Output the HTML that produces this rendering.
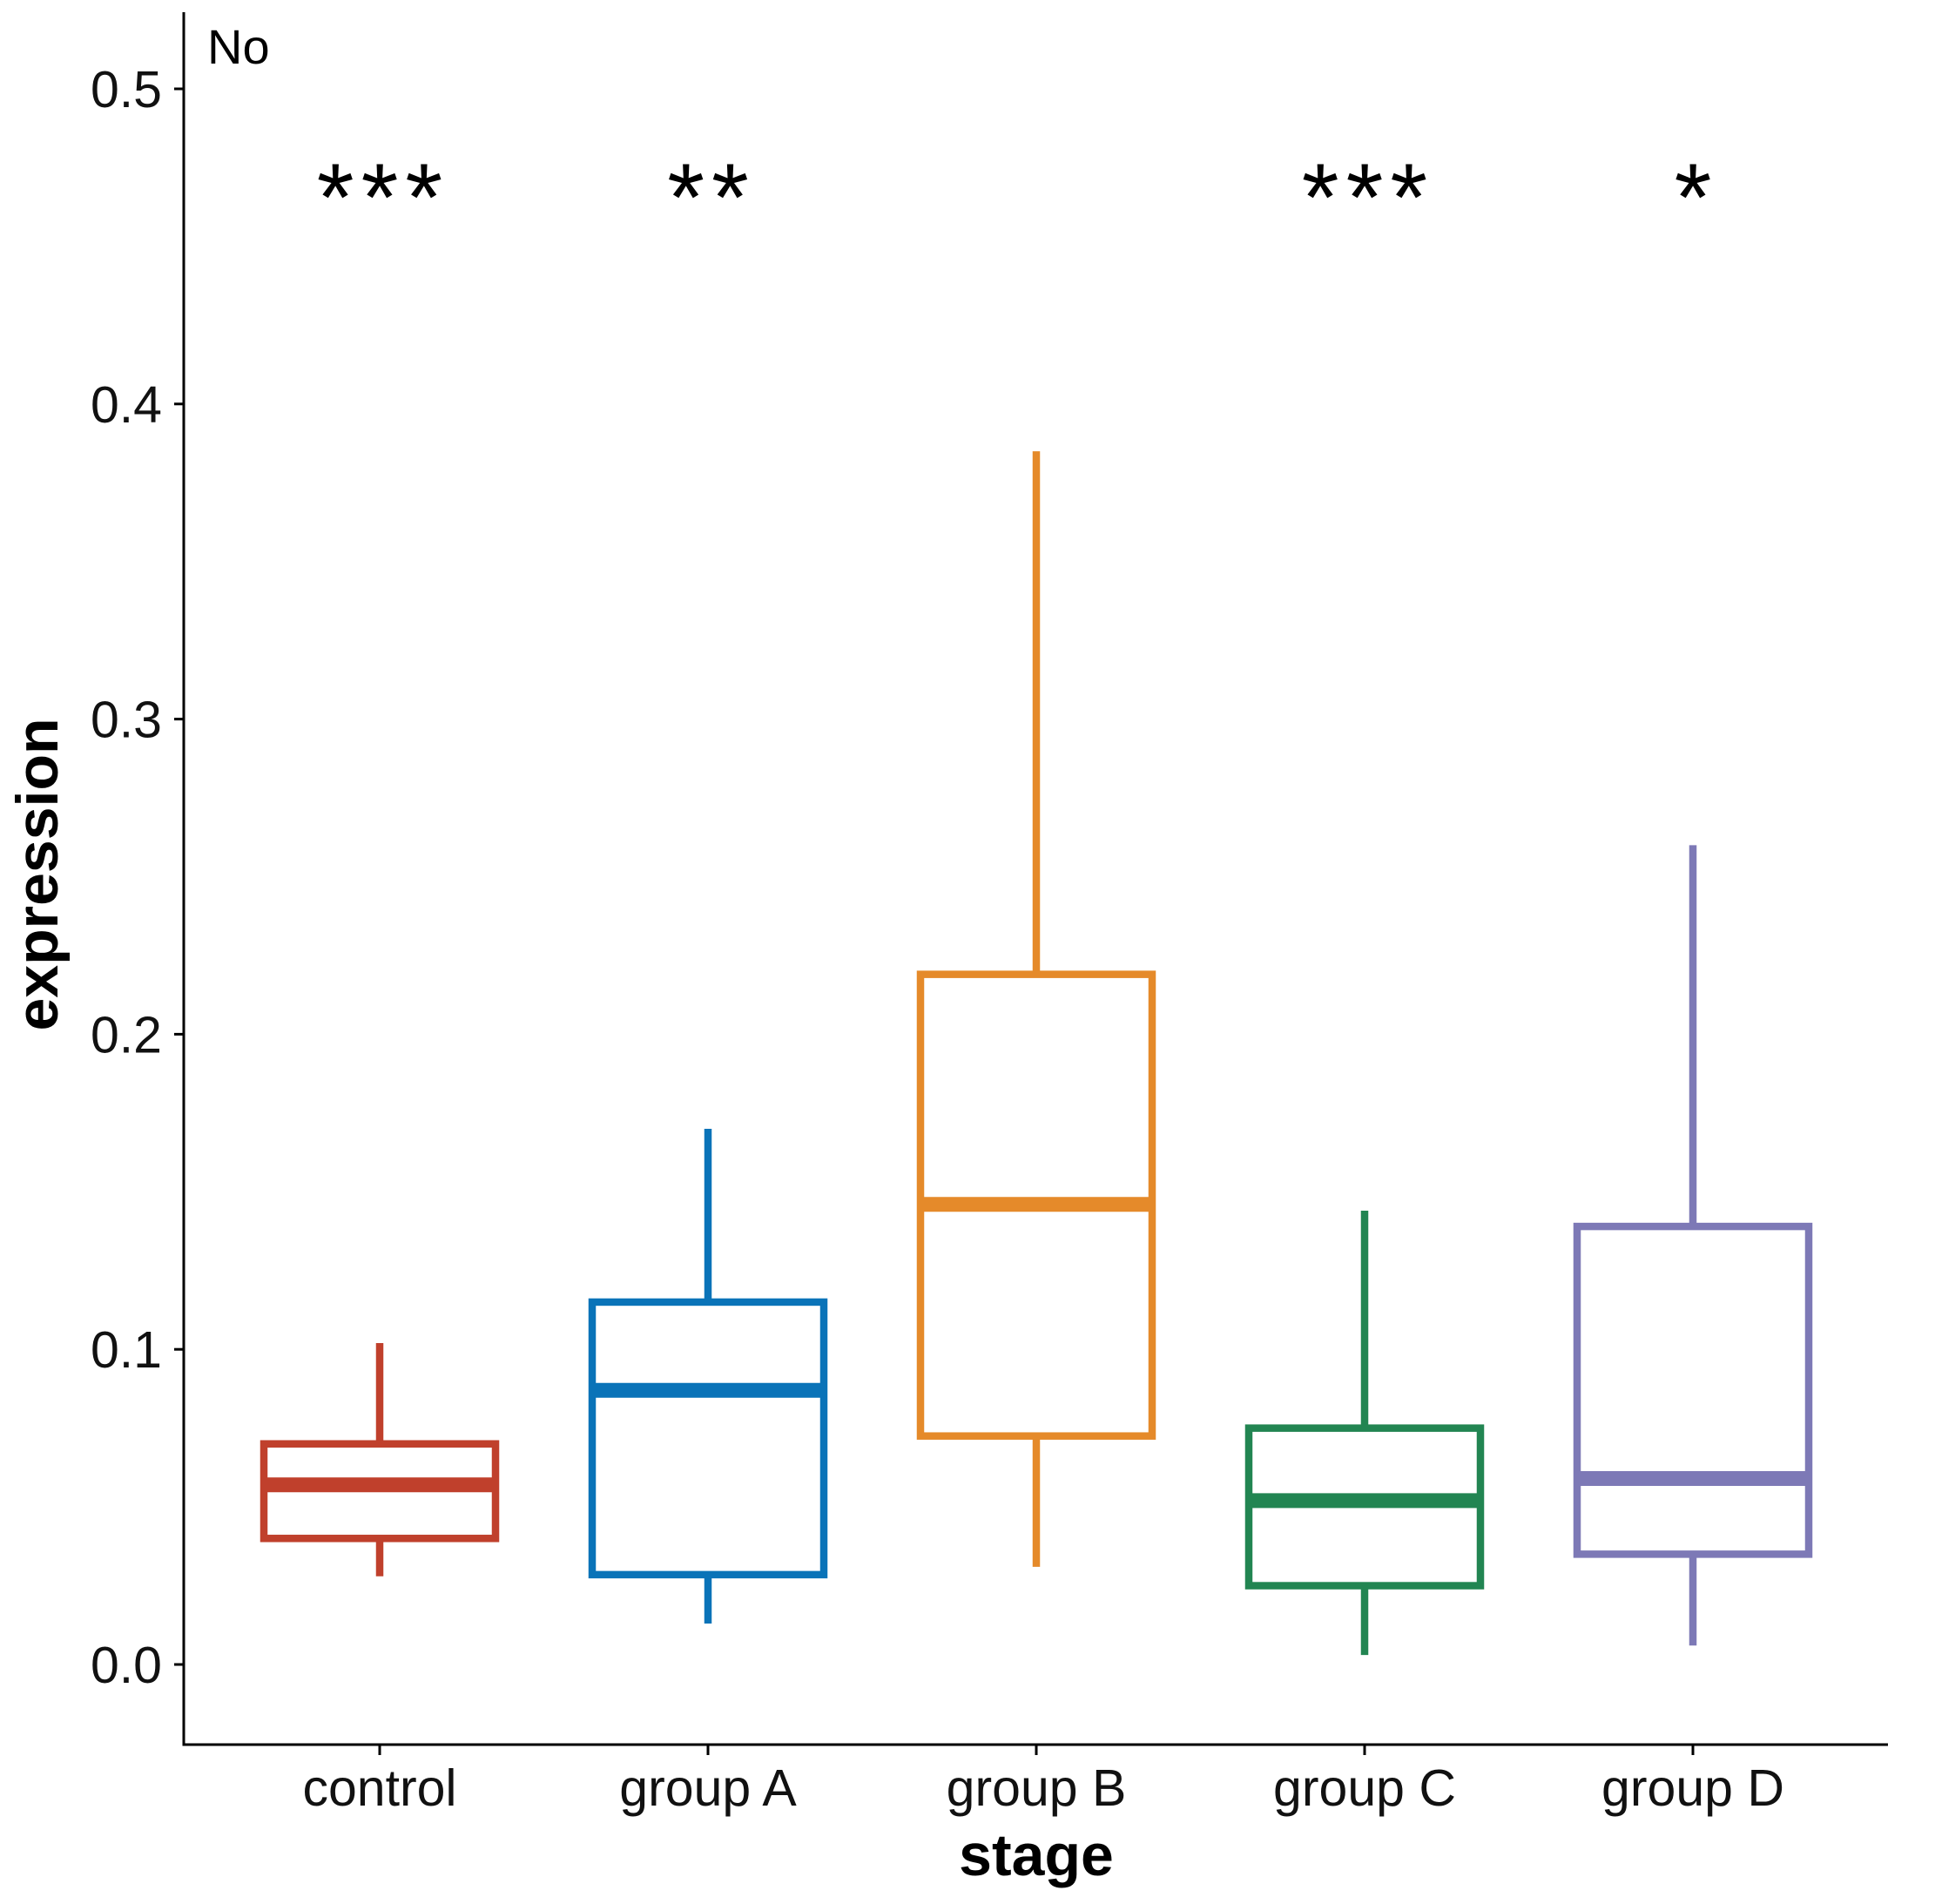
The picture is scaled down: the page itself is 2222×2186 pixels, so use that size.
<!DOCTYPE html>
<html><head><meta charset="utf-8"><style>
html,body{margin:0;padding:0;background:#fff}
svg{display:block}
text{font-family:"Liberation Sans",Arial,sans-serif}
</style></head><body>
<svg id="chart" width="2222" height="2186" viewBox="0 0 2222 2186" xmlns="http://www.w3.org/2000/svg">
<g id="axes"></g>
<g id="marks"></g>
<text x="238" y="73" font-size="56" fill="#000">No</text>
<text x="1190" y="2153" font-size="68" font-weight="bold" text-anchor="middle" fill="#000">stage</text>
<text x="0" y="0" font-size="68" font-weight="bold" text-anchor="middle" fill="#000" transform="translate(66,1004) rotate(-90)">expression</text>
</svg>
<script>
const categories = ["control","group A","group B","group C","group D"];
const whiskerLow = [0.028,0.013,0.031,0.003,0.006];
const q1 = [0.040,0.0285,0.0725,0.025,0.035];
const medians = [0.057,0.087,0.146,0.052,0.059];
const q3 = [0.070,0.115,0.219,0.075,0.139];
const whiskerHigh = [0.102,0.170,0.385,0.144,0.260];
const signif = ["***","**","","***","*"];
const yTicks = [0.0,0.1,0.2,0.3,0.4,0.5];
const yTickLabels = ["0.0","0.1","0.2","0.3","0.4","0.5"];
const colors = ["#C0402C","#0A73B8","#E58A2A","#228552","#7D79B6"];
const sigY = 0.465;

const NS = "http://www.w3.org/2000/svg";
const plotL = 211, plotR = 2168, plotT = 14, plotB = 2003;
const y0px = 1911, y05px = 102;
function yScale(v){ return y0px + (y05px - y0px) * (v / 0.5); }
function xScale(i){ return 436 + i * 377; }
function mk(tag, attrs, parent){
  const el = document.createElementNS(NS, tag);
  for (const k in attrs) el.setAttribute(k, attrs[k]);
  parent.appendChild(el);
  return el;
}
const axes = document.getElementById('axes');
const marks = document.getElementById('marks');

let yl = mk('line',{x1:plotL,y1:plotT,x2:plotL,y2:plotB+1.5,stroke:'#000','stroke-width':3},axes);


let xl = mk('line',{x1:plotL-1.5,y1:plotB,x2:plotR,y2:plotB,stroke:'#000','stroke-width':3},axes);



yTicks.forEach((v,i)=>{
  const y = yScale(v);
  const t = mk('line',{x1:plotL-11,y1:y,x2:plotL,y2:y,stroke:'#000','stroke-width':3},axes);
  
  
  const lb = mk('text',{x:186,y:y+21,'font-size':59,'text-anchor':'end',fill:'#111'},axes);
  lb.textContent = yTickLabels[i];
  
  
});

categories.forEach((c,i)=>{
  const x = xScale(i);
  const t = mk('line',{x1:x,y1:plotB,x2:x,y2:plotB+12,stroke:'#000','stroke-width':3},axes);
  
  
  const lb = mk('text',{x:x,y:2073,'font-size':59,'text-anchor':'middle',fill:'#111'},axes);
  lb.textContent = c;
  
  

  const g = mk('g',{},marks);
  
  
  const col = colors[i], hw = 133, sw = 8.5;
  mk('line',{x1:x,y1:yScale(whiskerHigh[i]),x2:x,y2:yScale(q3[i]),stroke:col,'stroke-width':sw},g);
  mk('line',{x1:x,y1:yScale(q1[i]),x2:x,y2:yScale(whiskerLow[i]),stroke:col,'stroke-width':sw},g);
  mk('rect',{x:x-hw,y:yScale(q3[i]),width:2*hw,height:yScale(q1[i])-yScale(q3[i]),fill:'none',stroke:col,'stroke-width':sw},g);
  mk('line',{x1:x-hw,y1:yScale(medians[i]),x2:x+hw,y2:yScale(medians[i]),stroke:col,'stroke-width':17},g);

  if (signif[i]) {
    const s = mk('text',{x:x+4,y:yScale(sigY)+36,'font-size':110,'text-anchor':'middle','letter-spacing':8,fill:'#000'},marks);
    s.textContent = signif[i];
    
    
  }
});
</script>
</body></html>
